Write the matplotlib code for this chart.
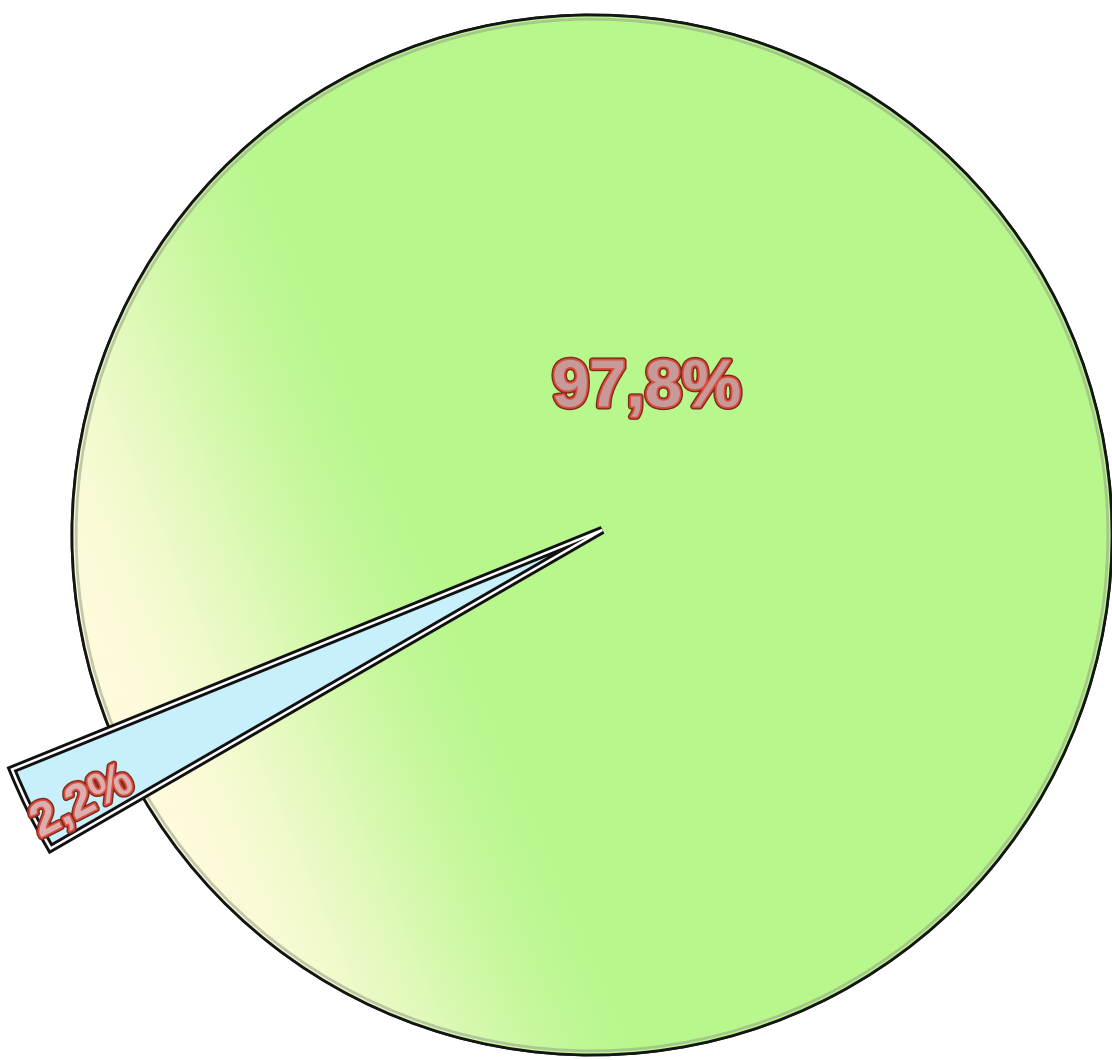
import numpy as np
import matplotlib
matplotlib.use("Agg")
import matplotlib.pyplot as plt
import matplotlib.patheffects as pe
from matplotlib.patches import Wedge
from matplotlib.colors import to_rgb

# ---- data ----
labels = ["97,8%", "2,2%"]
values = [97.8, 2.2]
colors = ["#b8f78c", "#c8f0fc"]

fig = plt.figure(figsize=(11.12, 10.6), dpi=100)
ax = fig.add_axes([0, 0, 1, 1])

wedges, _ = ax.pie(values, colors=colors, startangle=210, counterclock=True,
                   explode=[0, -0.022], radius=1.0,
                   wedgeprops=dict(edgecolor="#151515", linewidth=2.0))
green, blue = wedges
blue.set_radius(1.225)
blue.set_linewidth(6)
blue.set_edgecolor("#111111")
blue.set_zorder(5)
# inner white line for the double border
ax.add_patch(Wedge(blue.center, blue.r, blue.theta1, blue.theta2,
                   facecolor="none", edgecolor="white", linewidth=1.8, zorder=5.1))

# gradient fill for the large slice (yellowish towards lower left)
xlim = (-592 / 520, (1112 - 592) / 520)
ylim = (-525 / 520, 535 / 520)
xs = np.linspace(xlim[0], xlim[1], 600)
ys = np.linspace(ylim[0], ylim[1], 600)
X, Y = np.meshgrid(xs, ys)
s = 0.92 * X + 0.39 * Y
t = np.clip((s + 1.0) / 0.75, 0, 1)
t = t * t * (3 - 2 * t)
c_y = np.array(to_rgb("#fffbdc"))
c_g = np.array(to_rgb("#b8f78c"))
img = c_y[None, None, :] * (1 - t[..., None]) + c_g[None, None, :] * t[..., None]
im = ax.imshow(img, extent=[xlim[0], xlim[1], ylim[0], ylim[1]], origin="lower",
               zorder=1.5, interpolation="bilinear")
im.set_clip_path(green)
green.set_zorder(1)
# outline above gradient
ax.add_patch(Wedge((0, 0), 1.0, green.theta1, green.theta2,
                   facecolor="none", edgecolor="#151515", linewidth=2.0, zorder=2))
ax.add_patch(Wedge((0, 0), 0.992, green.theta1, green.theta2,
                   facecolor="none", edgecolor="#9aa88a", linewidth=2.0,
                   alpha=0.6, zorder=2))

txt_fx = [pe.withSimplePatchShadow(offset=(1.5, -1.5), shadow_rgbFace="#888888", alpha=0.5),
          pe.Stroke(linewidth=4.5, foreground="#7a2c1c"),
          pe.Stroke(linewidth=2.5, foreground="#e04a3c"),
          pe.Normal()]

ax.text(0.105, 0.28, labels[0], fontsize=48, fontweight="bold",
        family="Liberation Sans", color="#c59a98", ha="center", va="center",
        path_effects=txt_fx, zorder=6)
ax.text(-0.98, -0.515, labels[1], fontsize=34, fontweight="bold",
        family="Liberation Sans", color="#d9b0b0", ha="center", va="center",
        rotation=27, rotation_mode="anchor", path_effects=txt_fx, zorder=6)

ax.set_xlim(*xlim)
ax.set_ylim(*ylim)
ax.set_aspect("auto")
ax.axis("off")
fig.savefig("out.png", dpi=100, facecolor="white")
